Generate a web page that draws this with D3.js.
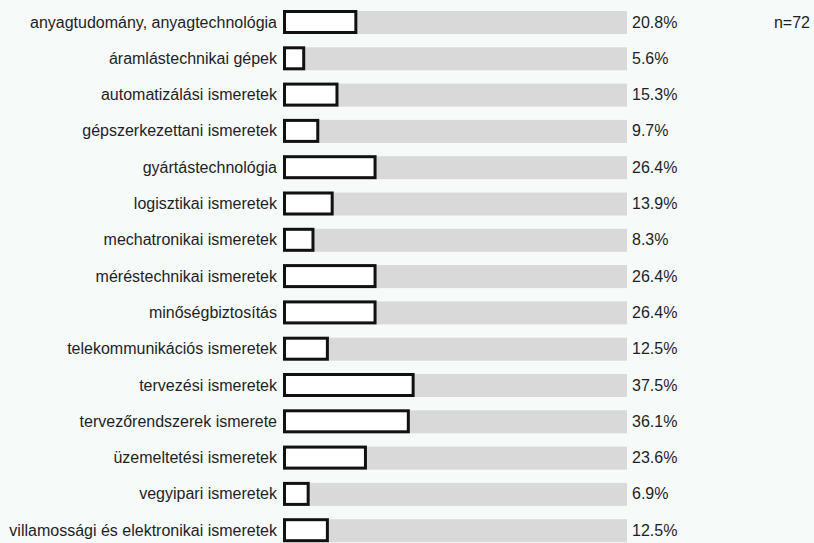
<!DOCTYPE html>
<html>
<head>
<meta charset="utf-8">
<script src="https://cdn.jsdelivr.net/npm/d3@7"></script>
<style>
  body { margin: 0; background: #f6faf8; }
  text { font-family: "Liberation Sans", Arial, sans-serif; }
</style>
</head>
<body>
<div id="chart"></div>
<script>
// categories and values (percent of respondents)
const categories = [
    'anyagtudomány, anyagtechnológia',
    'áramlástechnikai gépek',
    'automatizálási ismeretek',
    'gépszerkezettani ismeretek',
    'gyártástechnológia',
    'logisztikai ismeretek',
    'mechatronikai ismeretek',
    'méréstechnikai ismeretek',
    'minőségbiztosítás',
    'telekommunikációs ismeretek',
    'tervezési ismeretek',
    'tervezőrendszerek ismerete',
    'üzemeltetési ismeretek',
    'vegyipari ismeretek',
    'villamossági és elektronikai ismeretek'
];
const values = [20.8, 5.6, 15.3, 9.7, 26.4, 13.9, 8.3, 26.4, 26.4, 12.5, 37.5, 36.1, 23.6, 6.9, 12.5];
const sampleLabel = 'n=72';

const width = 814, height = 543;
const rowStep = 36.3, pad = 0.339;

const svg = d3.select('#chart')
    .append('svg')
    .attr('width', width)
    .attr('height', height);

const x = d3.scaleLinear()
    .domain([0, 100])
    .range([284, 627]);

const y = d3.scaleBand()
    .domain(categories)
    .range([10, 10 + rowStep * (categories.length - pad)])
    .paddingInner(pad)
    .paddingOuter(0);

// gray track
svg.selectAll('rect.track')
    .data(categories)
    .enter()
    .append('rect')
    .attr('class', 'track')
    .attr('x', x(0))
    .attr('y', d => y(d) + 1)
    .attr('width', x(100) - x(0))
    .attr('height', y.bandwidth() - 1)
    .attr('fill', '#d9d9d9');

// value boxes
svg.selectAll('rect.bar')
    .data(values)
    .enter()
    .append('rect')
    .attr('class', 'bar')
    .attr('x', x(0) + 0.5)
    .attr('y', (d, i) => y(categories[i]) + 1.5)
    .attr('width', d => x(d) - x(0))
    .attr('height', y.bandwidth() - 3)
    .attr('fill', '#ffffff')
    .attr('stroke', '#111')
    .attr('stroke-width', 3);

// category labels
svg.selectAll('text.cat')
    .data(categories)
    .enter()
    .append('text')
    .attr('class', 'cat')
    .attr('x', 277)
    .attr('y', d => y(d) + y.bandwidth() / 2)
    .attr('dy', '0.35em')
    .attr('text-anchor', 'end')
    .attr('font-size', '16px')
    .attr('fill', '#1e1e28')
    .text(d => d);

// value labels
svg.selectAll('text.val')
    .data(values)
    .enter()
    .append('text')
    .attr('class', 'val')
    .attr('x', 632)
    .attr('y', (d, i) => y(categories[i]) + y.bandwidth() / 2)
    .attr('dy', '0.35em')
    .attr('font-size', '16px')
    .attr('fill', '#1e1e28')
    .text(d => d.toFixed(1) + '%');

svg.append('text')
    .attr('x', 810)
    .attr('y', y(categories[0]) + y.bandwidth() / 2)
    .attr('dy', '0.35em')
    .attr('text-anchor', 'end')
    .attr('font-size', '16px')
    .attr('fill', '#1e1e28')
    .text(sampleLabel);
</script>
</body>
</html>
